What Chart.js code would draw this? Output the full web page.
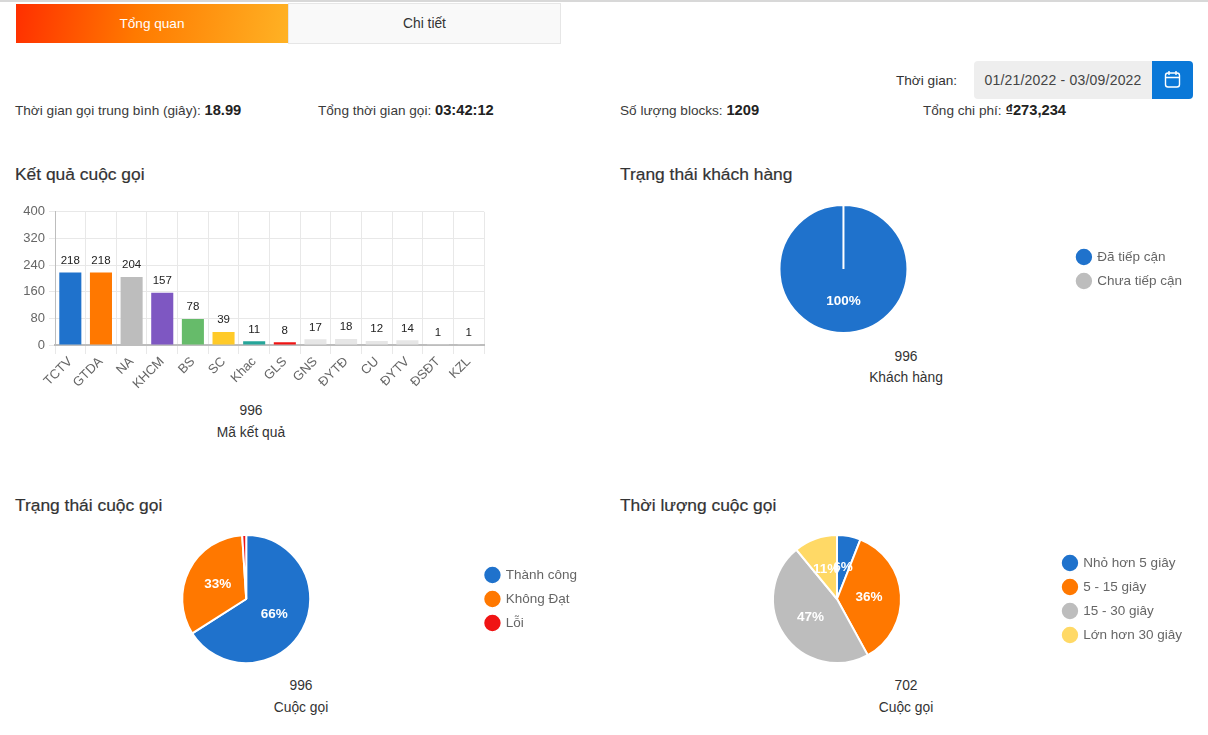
<!DOCTYPE html>
<html>
<head>
<meta charset="utf-8">
<script src="https://cdn.jsdelivr.net/npm/chart.js@4"></script>
<style>
html, body { margin: 0; padding: 0; background: #fff; }
body { width: 1208px; height: 735px; position: relative; overflow: hidden; font-family: "Liberation Sans", sans-serif; color: #333; }
.t { position: absolute; white-space: nowrap; line-height: 20px; }
.info { font-size: 13.6px; top: 100px; color: #3a3a3a; }
.info b { color: #222; font-size: 14.7px; }
.head { font-size: 17.4px; color: #333; -webkit-text-stroke: 0.2px #333; }
.total { font-size: 13.8px; text-align: center; width: 200px; color: #333; }
canvas { position: absolute; }
.box { position: absolute; }
</style>
</head>
<body>
<div class="box" style="left:0;top:0;width:1208px;height:2px;background:#d8d8d8"></div>
<div class="box" style="left:16px;top:4px;width:272px;height:39px;background:linear-gradient(100deg,#ff2f00 0%,#ff7a00 45%,#ffb224 100%);color:#fff;font-size:13.6px;line-height:39px;text-align:center">Tổng quan</div>
<div class="box" style="left:288px;top:3px;width:271px;height:39px;background:#f9f9f9;border:1px solid #e6e6e6;color:#333;font-size:13.8px;line-height:39px;text-align:center">Chi tiết</div>

<div class="t" style="left:896px;top:71px;font-size:13.6px">Thời gian:</div>
<div class="box" style="left:974px;top:61px;width:178px;height:38px;background:#eeeeee;border-radius:4px 0 0 4px;font-size:14px;line-height:38px;text-align:center;color:#444;letter-spacing:0.2px">01/21/2022 - 03/09/2022</div>
<div class="box" style="left:1152px;top:61px;width:41px;height:38px;background:#0a78d8;border-radius:0 4px 4px 0">
  <svg width="41" height="38" viewBox="0 0 41 38" fill="none" stroke="#fff" stroke-width="1.4">
    <rect x="13.5" y="12" width="14" height="14" rx="2.5"/><path d="M13.5 16.5h14M17 10v4M24 10v4"/>
  </svg>
</div>

<div class="t info" style="left:15px">Thời gian gọi trung bình (giây): <b>18.99</b></div>
<div class="t info" style="left:318px">Tổng thời gian gọi: <b>03:42:12</b></div>
<div class="t info" style="left:620px">Số lượng blocks: <b>1209</b></div>
<div class="t info" style="left:923px">Tổng chi phí: <b>₫273,234</b></div>

<div class="t head" style="left:15px;top:164px">Kết quả cuộc gọi</div>
<div class="t head" style="left:620px;top:164px">Trạng thái khách hàng</div>
<div class="t head" style="left:15px;top:495px">Trạng thái cuộc gọi</div>
<div class="t head" style="left:620px;top:495px">Thời lượng cuộc gọi</div>

<canvas id="resultChart" style="left:10px;top:200px;width:480px;height:195px"></canvas>
<canvas id="customerChart" style="left:620px;top:196px;width:572px;height:146px"></canvas>
<canvas id="callStatusChart" style="left:17px;top:526px;width:570px;height:146px"></canvas>
<canvas id="durationChart" style="left:621px;top:526px;width:571px;height:146px"></canvas>

<div class="t total" style="left:151px;top:401px">996</div>
<div class="t total" style="left:151px;top:423px">Mã kết quả</div>
<div class="t total" style="left:806px;top:347px">996</div>
<div class="t total" style="left:806px;top:368px">Khách hàng</div>
<div class="t total" style="left:201px;top:676px">996</div>
<div class="t total" style="left:201px;top:698px">Cuộc gọi</div>
<div class="t total" style="left:806px;top:676px">702</div>
<div class="t total" style="left:806px;top:698px">Cuộc gọi</div>

<script>
const result_labels = ["TCTV", "GTDA", "NA", "KHCM", "BS", "SC", "Khac", "GLS", "GNS", "ĐYTĐ", "CU", "ĐYTV", "ĐSĐT", "KZL"];
const result_values = [218, 218, 204, 157, 78, 39, 11, 8, 17, 18, 12, 14, 1, 1];
const result_colors = ["#1f72cc", "#ff7800", "#bdbdbd", "#7e57c2", "#66bb6a", "#ffca28", "#26a69a", "#f01414", "#e6e6e6", "#e6e6e6", "#e6e6e6", "#e6e6e6", "#e6e6e6", "#e6e6e6"];
const result_ticks = [0, 80, 160, 240, 320, 400];

const customer_labels = ["Đã tiếp cận", "Chưa tiếp cận"];
const customer_values = [996, 0];
const customer_colors = ["#1f72cc", "#bdbdbd"];

const call_labels = ["Thành công", "Không Đạt", "Lỗi"];
const call_values = [657, 329, 10];
const call_colors = ["#1f72cc", "#ff7800", "#f01414"];

const duration_labels = ["Nhỏ hơn 5 giây", "5 - 15 giây", "15 - 30 giây", "Lớn hơn 30 giây"];
const duration_values = [42, 253, 330, 77];
const duration_colors = ["#1f72cc", "#ff7800", "#bdbdbd", "#ffd966"];

const font_family = '"Liberation Sans", sans-serif';
Chart.defaults.font.family = font_family;
Chart.defaults.animation = false;
Chart.defaults.devicePixelRatio = 1;

// value above each bar
const barLabels = {
    id: 'barLabels',
    afterDatasetsDraw: function(chart) {
        let ctx = chart.ctx;
        ctx.save();
        ctx.font = '11.5px ' + font_family;
        ctx.fillStyle = '#222';
        ctx.textAlign = 'center';
        ctx.textBaseline = 'bottom';
        chart.getDatasetMeta(0).data.forEach((bar, i) => {
            ctx.fillText(result_values[i], bar.x, bar.y - 6);
        });
        ctx.restore();
    }
};

// percent inside each slice
const pieLabels = {
    id: 'pieLabels',
    afterDatasetsDraw: function(chart) {
        let ctx = chart.ctx;
        let values = chart.data.datasets[0].data;
        let total = values.reduce((a, b) => a + b, 0);
        ctx.save();
        ctx.font = 'bold 13.5px ' + font_family;
        ctx.fillStyle = '#fff';
        ctx.textAlign = 'center';
        ctx.textBaseline = 'middle';
        chart.getDatasetMeta(0).data.forEach((arc, i) => {
            let pct = Math.round(values[i] / total * 100);
            if (pct < 2) return;
            let pos = arc.tooltipPosition();
            ctx.fillText(pct + '%', pos.x, pos.y);
        });
        ctx.restore();
    }
};

function renderPie(id, labels, values, colors) {
    let context = document.getElementById(id).getContext('2d');
    return new Chart(context, {
        type: 'pie',
        plugins: [pieLabels],
        data: {
            labels: labels,
            datasets: [{ data: values, backgroundColor: colors, borderColor: '#fff', borderWidth: 2 }]
        },
        options: {
            responsive: false,
            layout: { padding: { top: 8, bottom: 8 } },
            plugins: {
                tooltip: { enabled: false },
                legend: {
                    position: 'right',
                    labels: {
                        usePointStyle: true,
                        pointStyle: 'circle',
                        boxWidth: 13,
                        boxHeight: 13,
                        padding: 10.5,
                        color: '#666',
                        font: { size: 13.5 }
                    }
                }
            }
        }
    });
}

function sizeCanvas(id) {
    let canvas = document.getElementById(id);
    canvas.width = parseInt(canvas.style.width);
    canvas.height = parseInt(canvas.style.height);
}
["resultChart", "customerChart", "callStatusChart", "durationChart"].forEach(sizeCanvas);

new Chart(document.getElementById('resultChart').getContext('2d'), {
    type: 'bar',
    plugins: [barLabels],
    data: {
        labels: result_labels,
        datasets: [{
            data: result_values,
            backgroundColor: result_colors,
            borderWidth: 0,
            barPercentage: 0.72,
            categoryPercentage: 1
        }]
    },
    options: {
        responsive: false,
        layout: { padding: { top: 11, right: 6, left: 0, bottom: 0 } },
        plugins: { legend: { display: false }, tooltip: { enabled: false } },
        scales: {
            x: {
                grid: { color: '#e8e8e8', tickLength: 9 },
                border: { color: '#bdbdbd', width: 2 },
                ticks: { color: '#666', font: { size: 13 }, minRotation: 45, maxRotation: 45, autoSkip: false, padding: 0 },
                afterFit: function(scale) { scale.height = 50; }
            },
            y: {
                min: 0,
                max: 400,
                grid: { color: '#e8e8e8', tickLength: 6 },
                border: { color: '#bdbdbd', width: 1 },
                afterBuildTicks: function(scale) { scale.ticks = result_ticks.map(v => ({ value: v })); },
                ticks: { color: '#666', font: { size: 13 }, padding: 4 },
                afterFit: function(scale) { scale.width = 45; }
            }
        }
    }
});

renderPie('customerChart', customer_labels, customer_values, customer_colors);
renderPie('callStatusChart', call_labels, call_values, call_colors);
renderPie('durationChart', duration_labels, duration_values, duration_colors);
</script>
</body>
</html>
